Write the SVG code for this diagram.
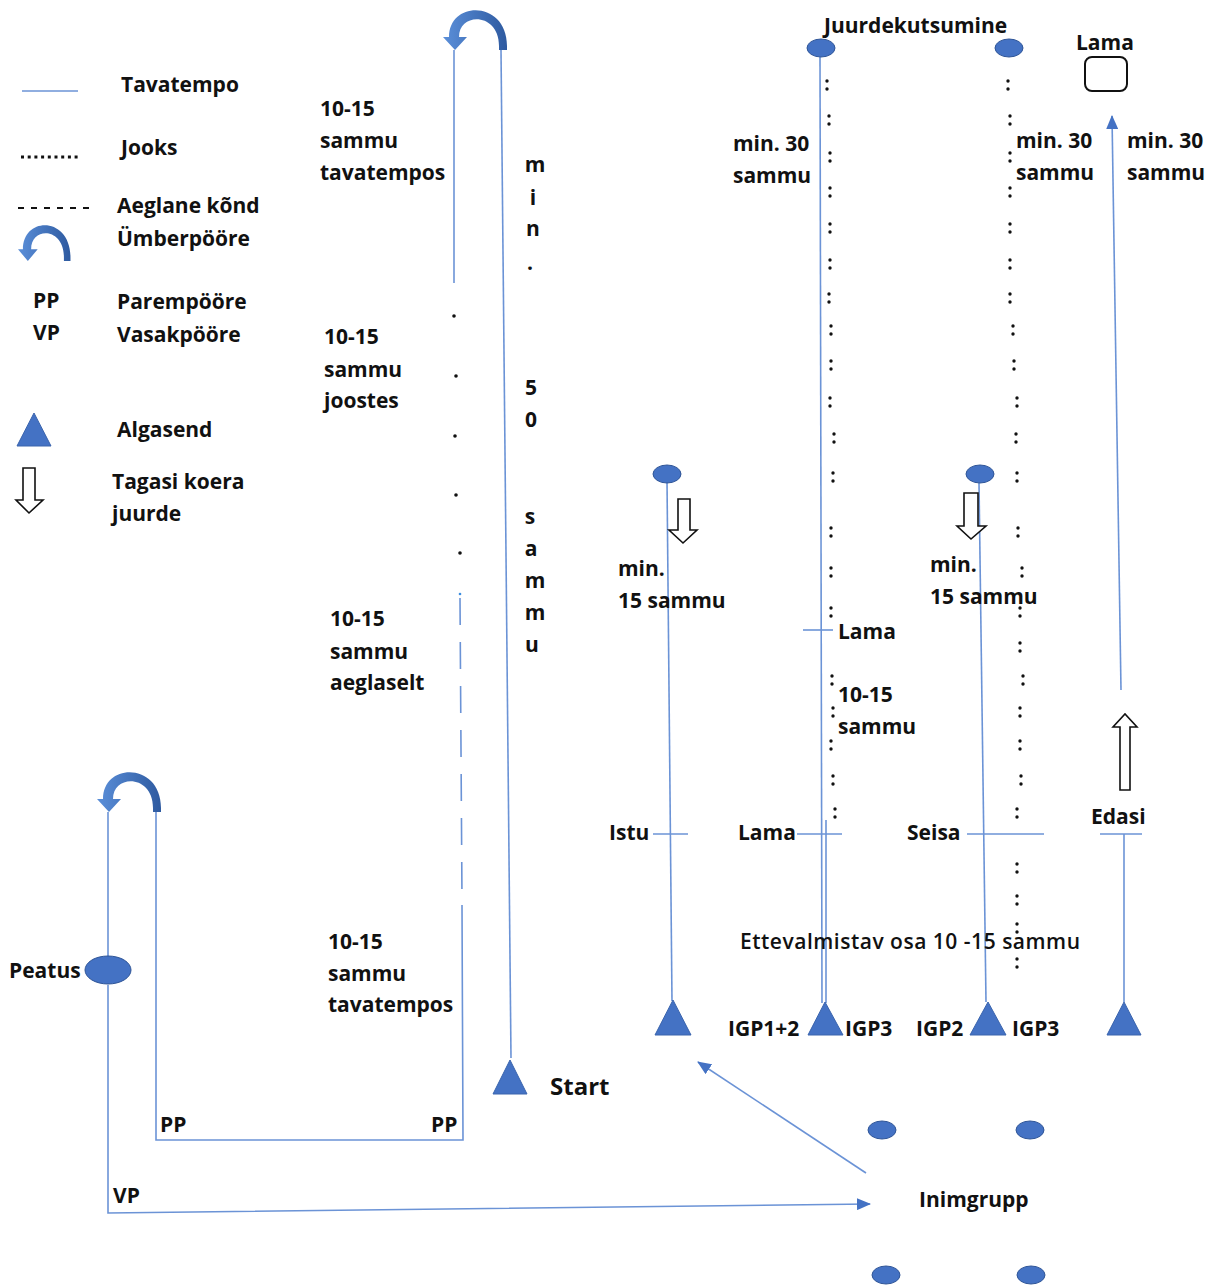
<svg xmlns="http://www.w3.org/2000/svg" width="1212" height="1287" viewBox="0 0 1212 1287">
<style>
.t{font-family:"Open Sans","Liberation Sans",sans-serif;font-size:21px;font-weight:700;fill:#111}
.vc{text-anchor:middle}
.ln{stroke:#6b93d6;stroke-width:1.6;fill:none}
.tri{fill:#4472C4;stroke:#3a64ad;stroke-width:1}
.ell{fill:#4472C4;stroke:#2f5597;stroke-width:1}
.hol{fill:#fff;stroke:#111;stroke-width:1.6}
.dot{fill:#111}
</style>
<defs>
<linearGradient id="ug" x1="0" y1="0" x2="1" y2="0">
<stop offset="0" stop-color="#5b8fd9"/>
<stop offset="1" stop-color="#2e5aa0"/>
</linearGradient>
<path id="uturn" fill="url(#ug)" d="M64 40 L64 36 C64 -10 6 -10 6 27 L0 27 L12 40 L24 27 L16 27 C16 2 56 2 56 36 L56 40 Z"/>
<g id="colon"><circle class="dot" cx="0" cy="-4" r="1.7"/><circle class="dot" cx="0" cy="4" r="1.7"/></g>
<marker id="ah" markerUnits="userSpaceOnUse" markerWidth="14" markerHeight="12" refX="13" refY="6" orient="auto" viewBox="0 0 14 12">
<path d="M0 0 L14 6 L0 12 Z" fill="#4472C4"/>
</marker>
</defs>

<g id="legend">
<line class="ln" x1="22" y1="91" x2="78" y2="91"/>
<text class="t" x="121" y="92">Tavatempo</text>
<line x1="21" y1="157" x2="81" y2="157" stroke="#111" stroke-width="3" stroke-dasharray="3 3.7"/>
<text class="t" x="121" y="155">Jooks</text>
<line x1="18" y1="208" x2="92" y2="208" stroke="#111" stroke-width="2" stroke-dasharray="6 7"/>
<text class="t" x="117" y="213">Aeglane kõnd</text>
<use href="#uturn" transform="translate(18,225) scale(0.82,0.9)"/>
<text class="t" x="117" y="246">Ümberpööre</text>
<text class="t" x="33" y="308">PP</text>
<text class="t" x="117" y="309">Parempööre</text>
<text class="t" x="33" y="340">VP</text>
<text class="t" x="117" y="342">Vasakpööre</text>
<polygon class="tri" points="17,446 51,446 34,413"/>
<text class="t" x="117" y="437">Algasend</text>
<path class="hol" d="M23 468 H35 V500 H43 L29 513 L16 500 H23 Z"/>
<text class="t" x="112" y="489">Tagasi koera</text>
<text class="t" x="112" y="521">juurde</text>
</g>

<g id="connectors">
<line class="ln" x1="511" y1="1058" x2="501" y2="50"/>
<line class="ln" x1="454" y1="50" x2="454" y2="283"/>
<line x1="460" y1="598" x2="462" y2="900" stroke="#6b93d6" stroke-width="1.6" stroke-dasharray="27 17"/>
<polyline class="ln" points="462,905 463,1140 156,1140 156,812"/>
<line class="ln" x1="108" y1="812" x2="108" y2="956"/>
<polyline class="ln" points="108,985 108,1213 870,1204" marker-end="url(#ah)"/>
<line class="ln" x1="667" y1="480" x2="672" y2="1001"/>
<line class="ln" x1="653" y1="834" x2="688" y2="834"/>
<line class="ln" x1="820" y1="57" x2="822" y2="1003"/>
<line class="ln" x1="826" y1="820" x2="826" y2="1003"/>
<line class="ln" x1="803" y1="630" x2="833" y2="630"/>
<line class="ln" x1="797" y1="834" x2="842" y2="834"/>
<line class="ln" x1="979" y1="483" x2="986" y2="1002"/>
<line class="ln" x1="967" y1="834" x2="1044" y2="834"/>
<line class="ln" x1="1121" y1="690" x2="1112" y2="116" marker-end="url(#ah)"/>
<line class="ln" x1="1100" y1="834" x2="1142" y2="834"/>
<line class="ln" x1="1124" y1="834" x2="1124" y2="1002"/>
<line class="ln" x1="866" y1="1173" x2="698" y2="1062" marker-end="url(#ah)"/>
<circle class="dot" cx="454" cy="316" r="1.8"/>
<circle class="dot" cx="456" cy="376" r="1.8"/>
<circle class="dot" cx="455" cy="436" r="1.8"/>
<circle class="dot" cx="456" cy="495" r="1.8"/>
<circle class="dot" cx="460" cy="553" r="1.8"/>
<circle cx="460" cy="594" r="1.3" fill="#3b8de0"/>
<use href="#colon" x="827" y="85"/><use href="#colon" x="829" y="120"/><use href="#colon" x="830" y="157"/>
<use href="#colon" x="830" y="192"/><use href="#colon" x="830" y="228"/><use href="#colon" x="830" y="264"/>
<use href="#colon" x="829" y="298"/><use href="#colon" x="831" y="330"/><use href="#colon" x="831" y="365"/>
<use href="#colon" x="830" y="402"/><use href="#colon" x="834" y="438"/><use href="#colon" x="833" y="477"/>
<use href="#colon" x="831" y="532"/><use href="#colon" x="831" y="572"/><use href="#colon" x="831" y="612"/>
<use href="#colon" x="832" y="680"/><use href="#colon" x="833" y="712"/><use href="#colon" x="831" y="745"/>
<use href="#colon" x="833" y="780"/><use href="#colon" x="835" y="813"/>
<use href="#colon" x="1008" y="85"/><use href="#colon" x="1010" y="120"/><use href="#colon" x="1010" y="157"/>
<use href="#colon" x="1010" y="192"/><use href="#colon" x="1010" y="228"/><use href="#colon" x="1010" y="264"/>
<use href="#colon" x="1010" y="298"/><use href="#colon" x="1013" y="330"/><use href="#colon" x="1014" y="365"/>
<use href="#colon" x="1017" y="402"/><use href="#colon" x="1016" y="438"/><use href="#colon" x="1017" y="477"/>
<use href="#colon" x="1018" y="532"/><use href="#colon" x="1022" y="572"/><use href="#colon" x="1020" y="612"/>
<use href="#colon" x="1020" y="647"/><use href="#colon" x="1023" y="680"/><use href="#colon" x="1020" y="712"/>
<use href="#colon" x="1020" y="745"/><use href="#colon" x="1021" y="780"/><use href="#colon" x="1017" y="813"/>
<use href="#colon" x="1017" y="868"/><use href="#colon" x="1017" y="900"/><use href="#colon" x="1017" y="928"/>
<use href="#colon" x="1017" y="963"/>
</g>

<g id="uturn-top"><use href="#uturn" transform="translate(443,10)"/></g>
<g id="uturn-left"><use href="#uturn" transform="translate(97,772)"/></g>

<g id="start">
<polygon class="tri" points="493,1094 527,1094 510,1060"/>
<text class="t" x="550" y="1095" style="font-size:24px">Start</text>
</g>

<g id="labels-main">
<text class="t" x="320" y="116">10-15</text>
<text class="t" x="320" y="148">sammu</text>
<text class="t" x="320" y="180">tavatempos</text>
<text class="t" x="324" y="344">10-15</text>
<text class="t" x="324" y="377">sammu</text>
<text class="t" x="324" y="408">joostes</text>
<text class="t" x="330" y="626">10-15</text>
<text class="t" x="330" y="659">sammu</text>
<text class="t" x="330" y="690">aeglaselt</text>
<text class="t" x="328" y="949">10-15</text>
<text class="t" x="328" y="981">sammu</text>
<text class="t" x="328" y="1012">tavatempos</text>
<text class="t" x="160" y="1132">PP</text>
<text class="t" x="431" y="1132">PP</text>
<text class="t" x="113" y="1203">VP</text>
</g>

<g id="min50">
<text class="t vc" x="535" y="172">m</text>
<text class="t vc" x="533" y="205">i</text>
<text class="t vc" x="533" y="236">n</text>
<text class="t vc" x="530" y="270">.</text>
<text class="t vc" x="531" y="395">5</text>
<text class="t vc" x="531" y="427">0</text>
<text class="t vc" x="530" y="524">s</text>
<text class="t vc" x="531" y="556">a</text>
<text class="t vc" x="535" y="588">m</text>
<text class="t vc" x="535" y="620">m</text>
<text class="t vc" x="532" y="652">u</text>
</g>

<g id="peatus">
<ellipse class="ell" cx="108" cy="970" rx="23" ry="14"/>
<text class="t" x="9" y="978">Peatus</text>
</g>

<g id="istu">
<ellipse class="ell" cx="667" cy="474" rx="14" ry="9"/>
<path class="hol" d="M678 499 H690 V530 H697 L683 543 L669 530 H678 Z"/>
<text class="t" x="618" y="576">min.</text>
<text class="t" x="618" y="608">15 sammu</text>
<text class="t" x="609" y="840">Istu</text>
<polygon class="tri" points="655,1035 691,1035 673,1000"/>
</g>

<g id="juurdekutsumine">
<text class="t" x="824" y="33">Juurdekutsumine</text>
<ellipse class="ell" cx="821" cy="48" rx="14" ry="9"/>
<ellipse class="ell" cx="1009" cy="48" rx="14" ry="9"/>
<text class="t" x="733" y="151">min. 30</text>
<text class="t" x="733" y="183">sammu</text>
<text class="t" x="1016" y="148">min. 30</text>
<text class="t" x="1016" y="180">sammu</text>
<text class="t" x="838" y="639">Lama</text>
<text class="t" x="838" y="702">10-15</text>
<text class="t" x="838" y="734">sammu</text>
<text class="t" x="738" y="840">Lama</text>
<polygon class="tri" points="808,1035 843,1035 825,1002"/>
</g>

<g id="seisa">
<ellipse class="ell" cx="980" cy="474" rx="14" ry="9"/>
<path class="hol" d="M964 493 H978 V526 H986 L971 539 L957 526 H964 Z"/>
<text class="t" x="930" y="572">min.</text>
<text class="t" x="930" y="604">15 sammu</text>
<text class="t" x="907" y="840">Seisa</text>
<polygon class="tri" points="970,1035 1006,1035 988,1002"/>
</g>

<g id="edasi">
<text class="t" x="1076" y="50">Lama</text>
<rect x="1085" y="57" width="42" height="34" rx="7" fill="#fff" stroke="#111" stroke-width="2"/>
<text class="t" x="1127" y="148">min. 30</text>
<text class="t" x="1127" y="180">sammu</text>
<path class="hol" d="M1120 790 V727 H1113 L1125 714 L1137 727 H1130 V790 Z"/>
<text class="t" x="1091" y="824">Edasi</text>
<polygon class="tri" points="1107,1035 1141,1035 1124,1002"/>
</g>

<g id="bottom-labels">
<text class="t" x="740" y="949" style="font-weight:600" textLength="340" lengthAdjust="spacing">Ettevalmistav osa 10 -15 sammu</text>
<text class="t" x="728" y="1036">IGP1+2</text>
<text class="t" x="845" y="1036">IGP3</text>
<text class="t" x="916" y="1036">IGP2</text>
<text class="t" x="1012" y="1036">IGP3</text>
</g>

<g id="inimgrupp">
<ellipse class="ell" cx="882" cy="1130" rx="14" ry="9"/>
<ellipse class="ell" cx="1030" cy="1130" rx="14" ry="9"/>
<ellipse class="ell" cx="886" cy="1275" rx="14" ry="9"/>
<ellipse class="ell" cx="1031" cy="1275" rx="14" ry="9"/>
<text class="t" x="919" y="1207">Inimgrupp</text>
</g>
</svg>
